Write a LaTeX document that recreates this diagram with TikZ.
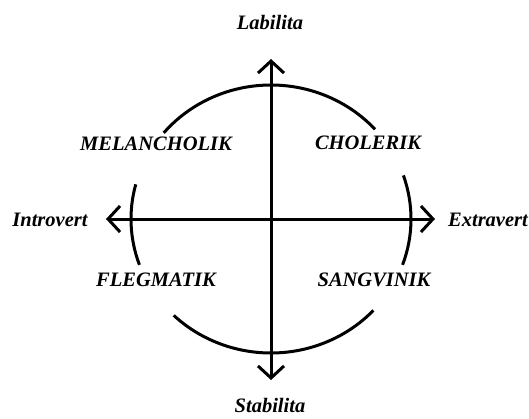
\documentclass[tikz,border=0pt]{standalone}
\usepackage{fontspec}
\setmainfont{Liberation Serif}
\usetikzlibrary{arrows.meta}

\tikzset{
  axis/.style={line width=3pt, {Straight Barb[length=12pt,width=26pt]}-{Straight Barb[length=12pt,width=26pt]}},
  rim/.style={line width=3pt},
  temper/.style={font=\fontsize{20.5}{24}\selectfont\bfseries\itshape, inner sep=0pt}
}

\begin{document}
\begin{tikzpicture}[x=1pt, y=1pt]
      \def\rx{140}
      \def\ry{134}
      \useasboundingbox (-271, -199) rectangle (258, 219);

      % ends of the two axes
      \coordinate (top) at (0, 160);
      \coordinate (bottom) at (0, -161);
      \coordinate (left) at (-165, 0);
      \coordinate (right) at (164, 0);

      % broken ellipse round the cross
      \foreach \a/\b in {42/140, 165/200, 226/317, -20/19} {
        \draw[rim] (\a:\rx pt and \ry pt) arc[start angle=\a, end angle=\b, x radius=\rx, y radius=\ry];
      }

      \draw[axis] (bottom) -- (top);
      \draw[axis] (left) -- (right);

      % axis labels
      \node[temper] (lab) at (-1, 196) {Labilita};
      \node[temper] (stab) at (-1, -186) {Stabilita};
      \node[temper] (intro) at (-221, -1) {Introvert};
      \node[temper] (extra) at (217, -1) {Extravert};

      % the four temperaments
      \foreach \n/\x/\y/\t in {mel/-115/75/MELANCHOLIK, chol/97/76/CHOLERIK, fleg/-115/-61/FLEGMATIK, sang/103/-61/SANGVINIK} {
        \node[temper] (\n) at (\x, \y) {\t};
      }
    \end{tikzpicture}
\end{document}
